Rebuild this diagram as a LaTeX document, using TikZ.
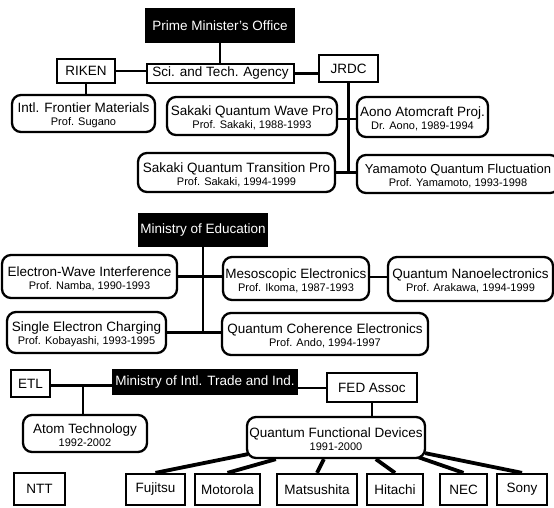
\documentclass[tikz,border=0pt]{standalone}
\usepackage{fontspec}
\setmainfont{Liberation Sans}
\usetikzlibrary{backgrounds,calc}
\newcommand\mtxt{\fontsize{13.5}{13}\selectfont}
\newcommand\subtxt{\fontsize{11}{13}\selectfont}
\newcommand\topst{\rule{0pt}{14pt}}
\tikzset{
  sz/.style 2 args={minimum width=#1pt, minimum height=#2pt},
  rbox/.style={draw, line width=2.3pt, rounded corners=9pt, fill=white, align=center, inner sep=0pt, font=\mtxt},
  sbox/.style={draw, line width=2.3pt, fill=white, inner sep=0pt, font=\mtxt},
  bbox/.style={fill=black, text=white, inner sep=0pt, font=\mtxt},
  conn/.style={line width=2.2pt},
  link/.style={line width=3.8pt}
}
\begin{document}
\begin{tikzpicture}[x=1pt,y=-1pt]
\useasboundingbox (0,0) rectangle (554,508);
\clip (0,0) rectangle (554,508);
% top section
\node[bbox, sz={150}{35}] (pmo) at (220,25.5) {Prime Minister's Office};
\node[sbox, sz={147}{19}] (sta) at (220.5,73.5) {Sci. and Tech. Agency};
\node[sbox, sz={58}{24}] (riken) at (86,71) {RIKEN};
\node[sbox, sz={59}{27}] (jrdc) at (348.5,68.5) {JRDC};
\node[rbox, sz={143}{37}] (ifm) at (83.5,113.5) {\topst Intl. Frontier Materials\\{\subtxt Prof. Sugano}};
\node[rbox, sz={170}{38}] (sqw) at (252,116) {\topst Sakaki Quantum Wave Pro\\{\subtxt Prof. Sakaki, 1988-1993}};
\node[rbox, sz={131}{40}] (aono) at (422.5,117) {\topst Aono Atomcraft Proj.\\{\subtxt Dr. Aono, 1989-1994}};
\node[rbox, sz={197}{39}] (sqt) at (236.5,172.5) {\topst Sakaki Quantum Transition Pro\\{\subtxt Prof. Sakaki, 1994-1999}};
\node[rbox, sz={202}{38}] (yam) at (458,174) {\topst{\fontsize{13}{13}\selectfont Yamamoto Quantum Fluctuation}\\{\subtxt Prof. Yamamoto, 1993-1998}};
\coordinate (jb) at (348.5,172);
% middle section
\node[bbox, sz={130}{34}] (moe) at (203,230) {Ministry of Education};
\node[rbox, sz={175}{43}] (ewi) at (89.5,276.5) {\topst Electron-Wave Interference\\{\subtxt Prof. Namba, 1990-1993}};
\node[rbox, sz={146}{43}] (meso) at (296,278.5) {\topst Mesoscopic Electronics\\{\subtxt Prof. Ikoma, 1987-1993}};
\node[rbox, sz={165}{44}] (nano) at (470.5,279) {\topst Quantum Nanoelectronics\\{\subtxt Prof. Arakawa, 1994-1999}};
\node[rbox, sz={159}{41}] (sec) at (86.5,332.5) {\topst Single Electron Charging\\{\subtxt Prof. Kobayashi, 1993-1995}};
\node[rbox, sz={206}{42}] (qce) at (325,334) {\topst Quantum Coherence Electronics\\{\subtxt Prof. Ando, 1994-1997}};
\coordinate (mb) at (203,334);
% bottom section
\node[sbox, sz={39}{27}] (etl) at (30.5,383.5) {ETL};
\node[bbox, sz={186}{26}] (miti) at (205,382) {Ministry of Intl. Trade and Ind.};
\node[sbox, sz={90}{29}] (fed) at (372,387.5) {FED Assoc};
\node[rbox, sz={124}{37}] (atom) at (85,433.5) {\topst Atom Technology\\{\subtxt 1992-2002}};
\node[rbox, sz={178}{41}] (qfd) at (336,437.5) {\topst Quantum Functional Devices\\{\subtxt 1991-2000}};
\node[sbox, sz={51}{32}] (ntt) at (39.5,489) {NTT};
\node[sbox, sz={59}{31}] (fuj) at (155.5,489.5) {Fujitsu};
\node[sbox, sz={65}{31}] (mot) at (227.5,489.5) {Motorola};
\node[sbox, sz={80}{31}] (mat) at (317,489.5) {Matsushita};
\node[sbox, sz={56}{31}] (hit) at (395,489.5) {Hitachi};
\node[sbox, sz={47}{31}] (nec) at (463.5,489.5) {NEC};
\node[sbox, sz={50}{31}] (sony) at (522,489.5) {Sony};
\coordinate (eb) at (83,385.5);
\begin{scope}[on background layer]
\draw[conn] (pmo.south) -- (pmo.south |- sta.north);
\draw[conn] (riken.east) -- (riken.east -| sta.west);
\draw[conn] (sta.east) -- (sta.east -| jrdc.west);
\draw[conn] (riken.south) -- (riken.south |- ifm.north);
\draw[conn] (jrdc.south) -- (jb);
\draw[conn] ([yshift=-3pt]sqw.east) -- ([yshift=-3pt]sqw.east -| aono.west);
\draw[conn] (sqt.east) -- (sqt.east -| yam.west);
\draw[conn] (moe.south) -- (mb);
\draw[conn] (ewi.east) -- (ewi.east -| meso.west);
\draw[conn] ([yshift=1.5pt]meso.east) -- ([yshift=1.5pt]meso.east -| nano.west);
\draw[conn] (sec.east) -- (sec.east -| qce.west);
\draw[conn] ([yshift=-2pt]etl.east) -- ([yshift=-2pt]etl.east -| miti.west);
\draw[conn] (eb) -- (eb |- atom.north);
\draw[conn] ([yshift=-6pt]miti.east) -- ([yshift=-6pt]miti.east -| fed.west);
\draw[conn] (fed.south) -- (fed.south |- qfd.north);
\draw[link] ($(qfd.south west)+(2,-5)$) -- (fuj.north);
\draw[link] ($(qfd.south west)+(30,0)$) -- (mot.north);
\draw[link] ($(qfd.south west)+(78,0)$) -- (mat.north);
\draw[link] ($(qfd.south west)+(130,0)$) -- (hit.north);
\draw[link] ($(qfd.south east)+(-8,-2)$) -- (nec.north);
\draw[link] ($(qfd.south east)+(-1,-6)$) -- (sony.north);
\end{scope}
\end{tikzpicture}
\end{document}
